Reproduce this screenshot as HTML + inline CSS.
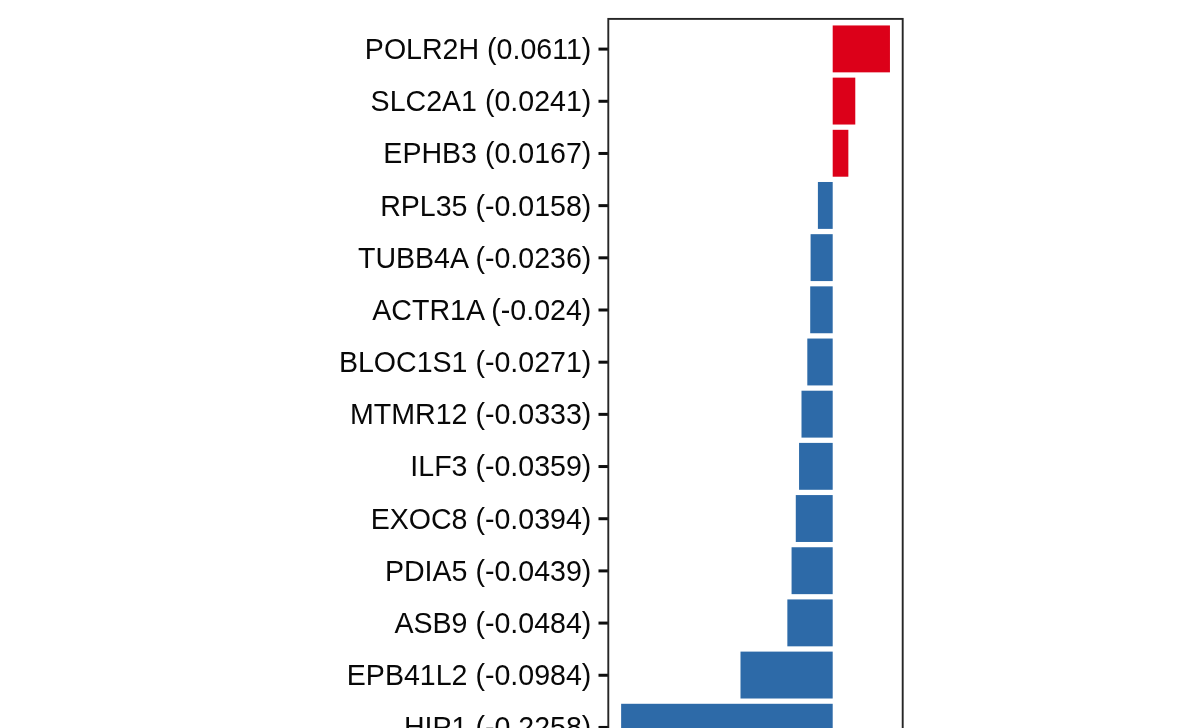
<!DOCTYPE html>
<html lang="en"><head><meta charset="utf-8"><title>Gene coefficients</title>
<style>
html,body{margin:0;padding:0;background:#fff;}
body{width:1200px;height:728px;overflow:hidden;position:relative;}
svg{position:absolute;left:0;top:0;display:block;}
text{font-family:"Liberation Sans",Arial,Helvetica,sans-serif;font-size:29.7px;fill:#080808;text-anchor:end;}
</style></head><body>
<svg width="1200" height="728" viewBox="0 0 1200 728">
<rect x="0" y="0" width="1200" height="728" fill="#ffffff"/>
<rect x="832.70" y="25.45" width="57.25" height="46.90" fill="#DC0019"/>
<rect x="832.70" y="77.63" width="22.58" height="46.90" fill="#DC0019"/>
<rect x="832.70" y="129.81" width="15.65" height="46.90" fill="#DC0019"/>
<rect x="817.90" y="181.99" width="14.80" height="46.90" fill="#2D6AA8"/>
<rect x="810.59" y="234.17" width="22.11" height="46.90" fill="#2D6AA8"/>
<rect x="810.21" y="286.35" width="22.49" height="46.90" fill="#2D6AA8"/>
<rect x="807.31" y="338.53" width="25.39" height="46.90" fill="#2D6AA8"/>
<rect x="801.50" y="390.71" width="31.20" height="46.90" fill="#2D6AA8"/>
<rect x="799.06" y="442.89" width="33.64" height="46.90" fill="#2D6AA8"/>
<rect x="795.78" y="495.07" width="36.92" height="46.90" fill="#2D6AA8"/>
<rect x="791.57" y="547.25" width="41.13" height="46.90" fill="#2D6AA8"/>
<rect x="787.35" y="599.43" width="45.35" height="46.90" fill="#2D6AA8"/>
<rect x="740.50" y="651.61" width="92.20" height="46.90" fill="#2D6AA8"/>
<rect x="621.13" y="703.79" width="211.57" height="46.90" fill="#2D6AA8"/>
<line x1="598.5" y1="49.10" x2="608" y2="49.10" stroke="#0d0d0d" stroke-width="3"/>
<text transform="translate(591.3 59.05) scale(0.9622 1)">POLR2H (0.0611)</text>
<line x1="598.5" y1="101.28" x2="608" y2="101.28" stroke="#0d0d0d" stroke-width="3"/>
<text transform="translate(591.3 111.23) scale(0.9622 1)">SLC2A1 (0.0241)</text>
<line x1="598.5" y1="153.46" x2="608" y2="153.46" stroke="#0d0d0d" stroke-width="3"/>
<text transform="translate(591.3 163.41) scale(0.9622 1)">EPHB3 (0.0167)</text>
<line x1="598.5" y1="205.64" x2="608" y2="205.64" stroke="#0d0d0d" stroke-width="3"/>
<text transform="translate(591.3 215.59) scale(0.9622 1)">RPL35 (-0.0158)</text>
<line x1="598.5" y1="257.82" x2="608" y2="257.82" stroke="#0d0d0d" stroke-width="3"/>
<text transform="translate(591.3 267.77) scale(0.9622 1)">TUBB4A (-0.0236)</text>
<line x1="598.5" y1="310.00" x2="608" y2="310.00" stroke="#0d0d0d" stroke-width="3"/>
<text transform="translate(591.3 319.95) scale(0.9622 1)">ACTR1A (-0.024)</text>
<line x1="598.5" y1="362.18" x2="608" y2="362.18" stroke="#0d0d0d" stroke-width="3"/>
<text transform="translate(591.3 372.13) scale(0.9622 1)">BLOC1S1 (-0.0271)</text>
<line x1="598.5" y1="414.36" x2="608" y2="414.36" stroke="#0d0d0d" stroke-width="3"/>
<text transform="translate(591.3 424.31) scale(0.9622 1)">MTMR12 (-0.0333)</text>
<line x1="598.5" y1="466.54" x2="608" y2="466.54" stroke="#0d0d0d" stroke-width="3"/>
<text transform="translate(591.3 476.49) scale(0.9622 1)">ILF3 (-0.0359)</text>
<line x1="598.5" y1="518.72" x2="608" y2="518.72" stroke="#0d0d0d" stroke-width="3"/>
<text transform="translate(591.3 528.67) scale(0.9622 1)">EXOC8 (-0.0394)</text>
<line x1="598.5" y1="570.90" x2="608" y2="570.90" stroke="#0d0d0d" stroke-width="3"/>
<text transform="translate(591.3 580.85) scale(0.9622 1)">PDIA5 (-0.0439)</text>
<line x1="598.5" y1="623.08" x2="608" y2="623.08" stroke="#0d0d0d" stroke-width="3"/>
<text transform="translate(591.3 633.03) scale(0.9622 1)">ASB9 (-0.0484)</text>
<line x1="598.5" y1="675.26" x2="608" y2="675.26" stroke="#0d0d0d" stroke-width="3"/>
<text transform="translate(591.3 685.21) scale(0.9622 1)">EPB41L2 (-0.0984)</text>
<line x1="598.5" y1="727.44" x2="608" y2="727.44" stroke="#0d0d0d" stroke-width="3"/>
<text transform="translate(591.3 737.39) scale(0.9622 1)">HIP1 (-0.2258)</text>
<rect x="608.3" y="18.9" width="294.4" height="760" fill="none" stroke="#262626" stroke-width="1.9"/>
</svg>
</body></html>
